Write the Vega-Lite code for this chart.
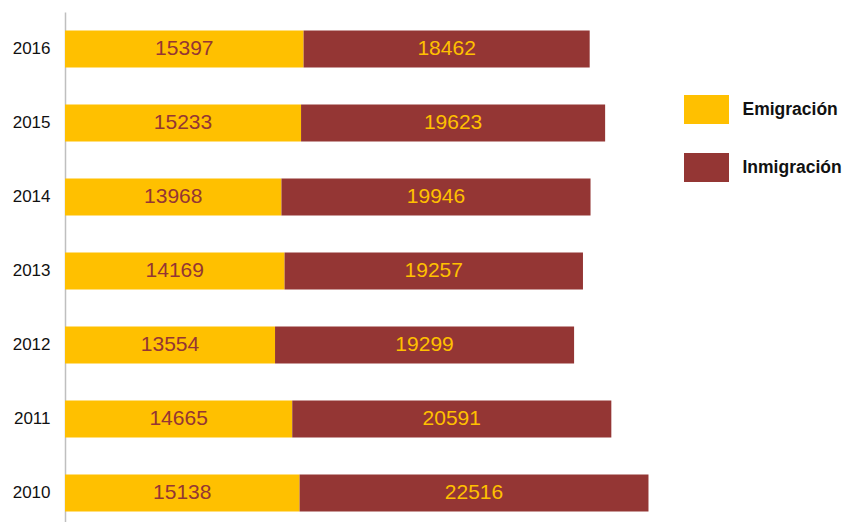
{
  "$schema": "https://vega.github.io/schema/vega-lite/v6.json",
  "autosize": "none",
  "width": 781,
  "height": 510,
  "padding": {"left": 65, "top": 12, "right": 0, "bottom": 0},
  "background": "white",
  "config": {"view": {"stroke": null}, "font": "Liberation Sans"},
  "data": {"values": [
    {"anio": "2016", "tipo": "Emigración", "valor": 15397, "orden": 1},
    {"anio": "2016", "tipo": "Inmigración", "valor": 18462, "orden": 2},
    {"anio": "2015", "tipo": "Emigración", "valor": 15233, "orden": 1},
    {"anio": "2015", "tipo": "Inmigración", "valor": 19623, "orden": 2},
    {"anio": "2014", "tipo": "Emigración", "valor": 13968, "orden": 1},
    {"anio": "2014", "tipo": "Inmigración", "valor": 19946, "orden": 2},
    {"anio": "2013", "tipo": "Emigración", "valor": 14169, "orden": 1},
    {"anio": "2013", "tipo": "Inmigración", "valor": 19257, "orden": 2},
    {"anio": "2012", "tipo": "Emigración", "valor": 13554, "orden": 1},
    {"anio": "2012", "tipo": "Inmigración", "valor": 19299, "orden": 2},
    {"anio": "2011", "tipo": "Emigración", "valor": 14665, "orden": 1},
    {"anio": "2011", "tipo": "Inmigración", "valor": 20591, "orden": 2},
    {"anio": "2010", "tipo": "Emigración", "valor": 15138, "orden": 1},
    {"anio": "2010", "tipo": "Inmigración", "valor": 22516, "orden": 2}
  ]},
  "transform": [
    {"stack": "valor", "groupby": ["anio"], "sort": [{"field": "orden", "order": "ascending"}], "as": ["x0", "x1"]},
    {"calculate": "(datum.x0 + datum.x1) / 2", "as": "xmid"}
  ],
  "encoding": {
    "y": {
      "field": "anio", "type": "ordinal", "sort": "descending",
      "scale": {"paddingInner": 0.5, "paddingOuter": 0.196, "align": 0.638},
      "axis": {"title": null, "domainColor": "#bfbfbf", "domainWidth": 1.5, "ticks": false, "labelPadding": 15, "labelFontSize": 17, "labelColor": "#111111", "labelFont": "Liberation Sans", "grid": false}
    }
  },
  "layer": [
    {
      "mark": {"type": "bar"},
      "encoding": {
        "x": {"field": "x0", "type": "quantitative", "scale": {"domain": [0, 50400], "nice": false, "zero": true}, "axis": null},
        "x2": {"field": "x1"},
        "color": {
          "field": "tipo", "type": "nominal",
          "scale": {"domain": ["Emigración", "Inmigración"], "range": ["#FFC000", "#943634"]},
          "legend": {
            "title": null, "orient": "none", "legendX": 619, "legendY": 75,
            "symbolType": "M-1,-0.644H1V0.644H-1Z", "symbolSize": 2025, "symbolStrokeWidth": 0,
            "rowPadding": 21, "labelOffset": 13.5, "labelFontSize": 17.5, "labelFontWeight": "bold",
            "labelFont": "Liberation Sans", "labelColor": "#111111", "padding": 0
          }
        }
      }
    },
    {
      "mark": {"type": "text", "fontSize": 21, "font": "Liberation Sans", "baseline": "middle", "align": "center"},
      "encoding": {
        "x": {"field": "xmid", "type": "quantitative"},
        "text": {"field": "valor", "type": "quantitative", "format": "d"},
        "color": {"condition": {"test": "datum.tipo === 'Emigración'", "value": "#943634"}, "value": "#FFC000"}
      }
    }
  ]
}
